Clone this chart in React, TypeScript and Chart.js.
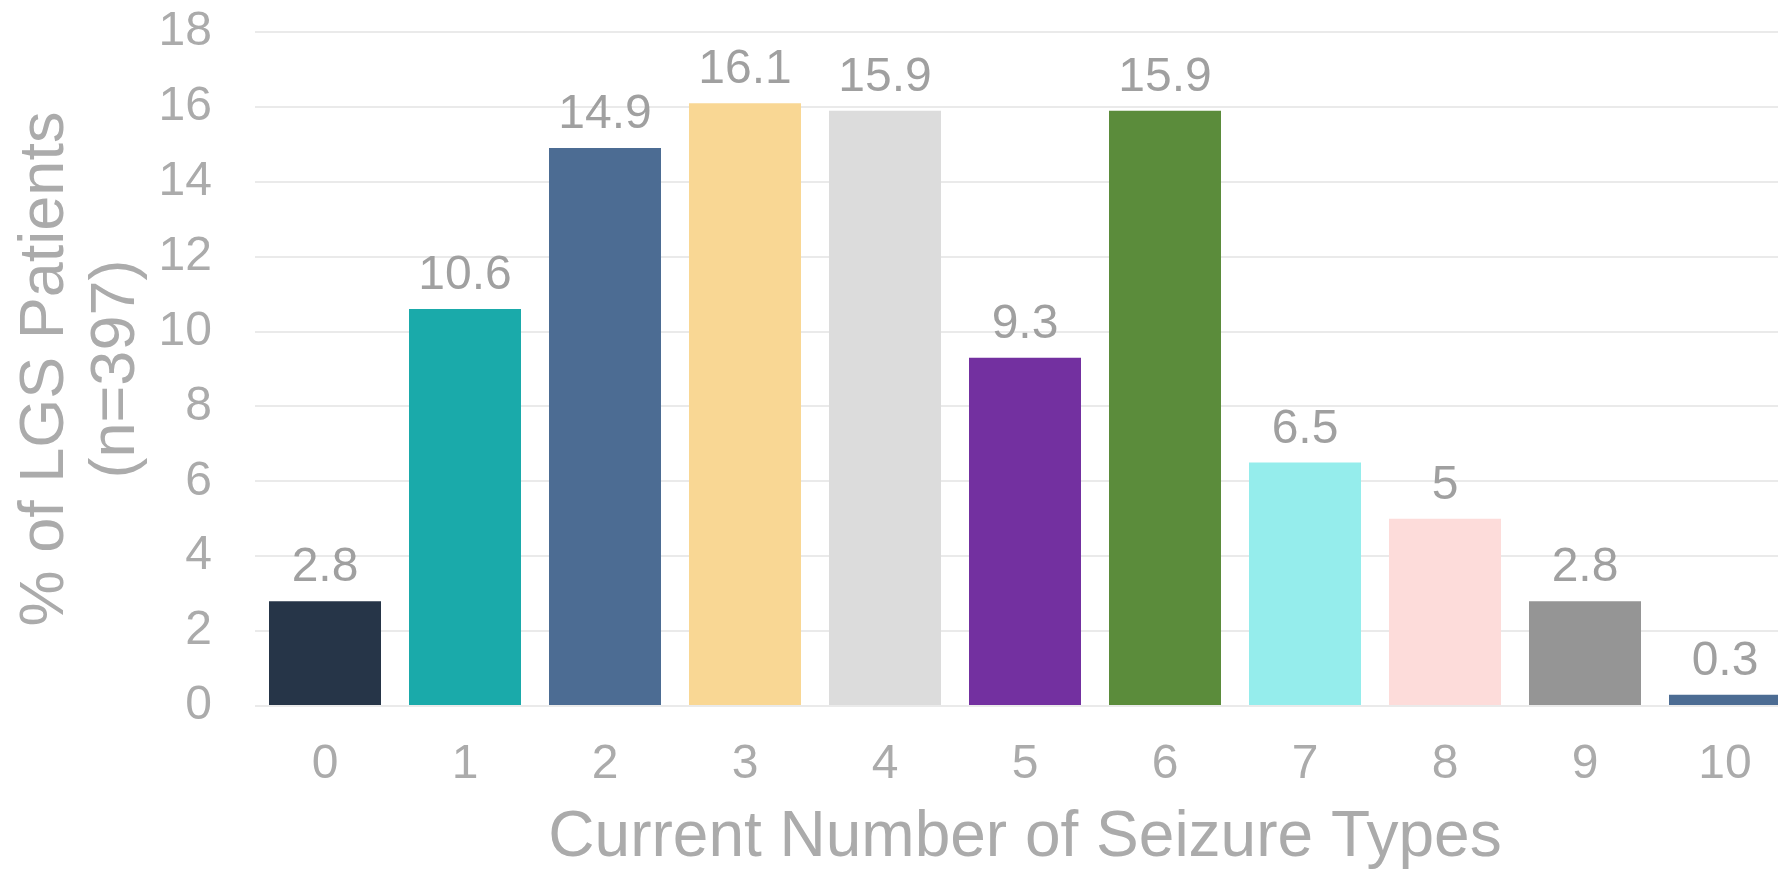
import React, { useEffect, useRef } from "react";
import { Chart, registerables } from "chart.js";

Chart.register(...registerables);

const categories = ["0", "1", "2", "3", "4", "5", "6", "7", "8", "9", "10"];
const percentages = [2.8, 10.6, 14.9, 16.1, 15.9, 9.3, 15.9, 6.5, 5, 2.8, 0.3];
const barColors = [
  "#263548",
  "#1AAAAA",
  "#4C6C93",
  "#F9D794",
  "#DCDCDC",
  "#7330A0",
  "#5B8C3B",
  "#95EDEC",
  "#FDDCDA",
  "#959595",
  "#4C6C93",
];
const yTitleLines = ["% of LGS Patients", "(n=397)"];
const xTitle = "Current Number of Seizure Types";

const FONT = "'Liberation Sans', Arial, sans-serif";
const W = 1795;
const H = 870;

const valueLabels = {
  id: "valueLabels",
  afterDatasetsDraw(chart: any) {
    const ctx = chart.ctx;
    const meta = chart.getDatasetMeta(0);
    ctx.save();
    ctx.font = `48px ${FONT}`;
    ctx.fillStyle = "#A0A0A0";
    ctx.textAlign = "center";
    ctx.textBaseline = "alphabetic";
    meta.data.forEach((bar: any, i: number) => {
      const v = chart.data.datasets[0].data[i];
      ctx.fillText(String(v), bar.x, bar.y - 20);
    });
    ctx.restore();
  },
};

export default function App() {
  const ref = useRef<HTMLCanvasElement | null>(null);

  useEffect(() => {
    document.body.style.overflow = "hidden";
    document.documentElement.style.overflow = "hidden";
    const canvas = ref.current;
    if (!canvas) return;
    const chart = new Chart(canvas, {
      type: "bar",
      data: {
        labels: categories,
        datasets: [
          {
            data: percentages,
            backgroundColor: barColors,
            borderWidth: 0,
            barPercentage: 1,
            categoryPercentage: 0.8,
          },
        ],
      },
      options: {
        responsive: false,
        animation: false,
        layout: { padding: { top: 32, left: 0, right: 0, bottom: 0 } },
        plugins: {
          legend: { display: false },
          tooltip: { enabled: false },
        },
        scales: {
          x: {
            offset: true,
            grid: { display: false, drawTicks: false },
            border: { display: false },
            ticks: {
              color: "#ABABAB",
              font: { family: FONT, size: 48 },
              padding: 30,
              maxRotation: 0,
              autoSkip: false,
            },
            title: {
              display: true,
              text: xTitle,
              color: "#ABABAB",
              font: { family: FONT, size: 64, lineHeight: 1 },
              padding: { top: 0, bottom: 0 },
            },
            afterFit: (scale: any) => {
              scale.height = 164;
              scale.paddingLeft = 0;
              scale.paddingRight = 0;
            },
          },
          y: {
            min: 0,
            max: 18,
            grid: { color: "#EAEAEA", lineWidth: 2, drawTicks: false },
            border: { display: false },
            ticks: {
              stepSize: 2,
              color: "#ABABAB",
              font: { family: FONT, size: 48 },
              padding: 43,
            },
            title: {
              display: true,
              text: yTitleLines,
              color: "#ABABAB",
              font: { family: FONT, size: 63, lineHeight: 1.13 },
              padding: { top: 10, bottom: 0 },
            },
            afterFit: (scale: any) => {
              scale.width = 255;
              scale.paddingTop = 0;
              scale.paddingBottom = 0;
            },
          },
        },
      },
      plugins: [valueLabels],
    });
    return () => chart.destroy();
  }, []);

  return (
    <div
      style={{
        position: "fixed",
        left: 0,
        top: 0,
        width: W,
        height: H,
        background: "#FFFFFF",
        overflow: "hidden",
      }}
    >
      <canvas ref={ref} width={W} height={H} style={{ display: "block", width: W, height: H }} />
    </div>
  );
}
